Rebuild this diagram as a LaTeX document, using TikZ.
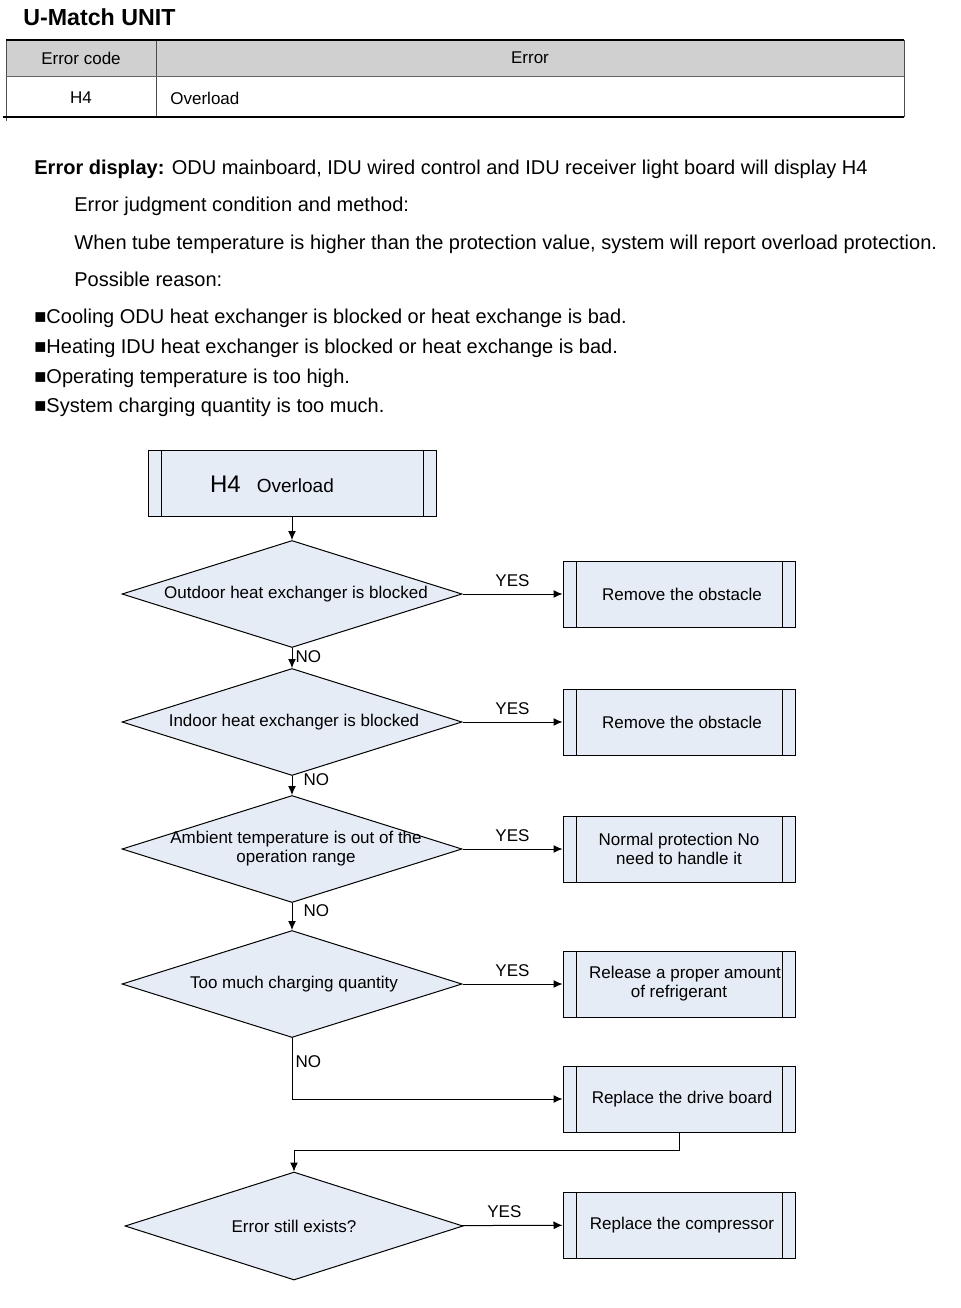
\documentclass[tikz,border=0pt]{standalone}
\usepackage{fontspec}
\setmainfont{Liberation Sans}
\usepackage{tikz}
\usetikzlibrary{arrows.meta}
\usetikzlibrary{shapes.geometric}
\usetikzlibrary{positioning}
\definecolor{boxblue}{HTML}{E6ECF6}
\definecolor{headgray}{HTML}{D0D0D0}
\tikzset{
  bodytext/.style={inner sep=0pt, anchor=base west, font=\fontsize{10}{12}\selectfont},
  fctext/.style={inner sep=0pt, align=center, font=\fontsize{8.5}{9.5}\selectfont},
  procbox/.style={draw, fill=boxblue, line width=0.5pt, minimum width=116pt, minimum height=33pt,
    inner sep=0pt, align=center, font=\fontsize{8.5}{9.5}\selectfont,
    path picture={
      \draw[line width=0.5pt] ([xshift=6.5pt]path picture bounding box.north west) -- ([xshift=6.5pt]path picture bounding box.south west);
      \draw[line width=0.5pt] ([xshift=-6.5pt]path picture bounding box.north east) -- ([xshift=-6.5pt]path picture bounding box.south east);}},
  decision/.style={draw, fill=boxblue, line width=0.5pt, shape=diamond, inner sep=0pt,
    minimum width=170pt, minimum height=53.5pt}
}

\begin{document}
\begin{tikzpicture}[x=0.5pt, y=-0.5pt]
	\useasboundingbox (0,0) rectangle (960,1308);

	% table
	\fill[headgray] (6,40) rectangle (904,76);
	\draw[line width=0.4pt, black!70] (6,40) -- (6,121);
	\draw[line width=0.4pt, black!70] (156,40) -- (156,117);
	\draw[line width=0.4pt, black!70] (904,40) -- (904,117);
	\draw[line width=0.4pt, black!60] (6,76) -- (904,76);
	\draw[line width=0.9pt] (6,40) -- (904,40);
	\draw[line width=0.9pt] (3,117) -- (904,117);

	\begin{scope}[every node/.style={inner sep=0pt, font=\fontsize{8.5}{10}\selectfont}]
		\node (title) [anchor=base west, font=\fontsize{11.6}{14}\selectfont\bfseries] at (23,25) {U-Match UNIT};
		\node (hcode) at (81,58) {Error code};
		\node (herr) at (530,58) {Error};
		\node (code) at (81,98) {H4};
		\node (err) [anchor=west] at (170,98) {Overload};
	\end{scope}

	% description
	\begin{scope}[every node/.style={bodytext}]
		\node (disp) at (34,174) {\textbf{Error display:} ODU mainboard, IDU wired control and IDU receiver light board will display H4};
		\node (judge) at (74,211) {Error judgment condition and method:};
		\node (when) at (74,249) {When tube temperature is higher than the protection value, system will report overload protection.};
		\node (poss) at (74,286) {Possible reason:};
		\node (r1) at (34,323) {■Cooling ODU heat exchanger is blocked or heat exchange is bad.};
		\node (r2) at (34,353) {■Heating IDU heat exchanger is blocked or heat exchange is bad.};
		\node (r3) at (34,383) {■Operating temperature is too high.};
		\node (r4) at (34,412) {■System charging quantity is too much.};
	\end{scope}

	% flow chart
	\node (start) [procbox, minimum width=144pt] at (292,483) {};
	\node (startt) [fctext] at (272,484) {{\fontsize{12}{14}\selectfont H4}\hspace{8pt}{\fontsize{9.5}{11}\selectfont Overload}};

	\node (q1) [decision] at (292,594) {};
	\node (q1t) [fctext] at (296,594) {Outdoor heat exchanger is blocked};
	\node (q2) [decision] at (292,722) {};
	\node (q2t) [fctext] at (294,722) {Indoor heat exchanger is blocked};
	\node (q3) [decision] at (292,849) {};
	\node (q3t) [fctext] at (296,849) {Ambient temperature is out of the\\operation range};
	\node (q4) [decision] at (292,984) {};
	\node (q4t) [fctext] at (294,984) {Too much charging quantity};
	\node (q5) [decision, minimum width=169pt, minimum height=54pt] at (294,1226) {};
	\node (q5t) [fctext] at (294,1226) {Error still exists?};

	\node (a1) [procbox] at (679,594) {\hspace*{3pt}Remove the obstacle};
	\node (a2) [procbox] at (679,722) {\hspace*{3pt}Remove the obstacle};
	\node (a3) [procbox] at (679,849) {Normal protection No\\need to handle it};
	\node (a4) [procbox] at (679,984) {\hspace*{6pt}Release a proper amount\\of refrigerant};
	\node (a5) [procbox] at (679,1099) {\hspace*{3pt}Replace the drive board};
	\node (a6) [procbox] at (679,1225) {\hspace*{3pt}Replace the compressor};

	\begin{scope}[>={Latex[length=4.5pt, width=4pt]},
	              every node/.style={inner sep=2.5pt, font=\fontsize{8.5}{10}\selectfont},
	              every edge/.style={draw=black, line width=0.5pt, ->}]
		\path (start) edge (q1);
		\path (q1) edge node[above, yshift=1pt] {YES} (a1);
		\path (q2) edge node[above, yshift=1pt] {YES} (a2);
		\path (q3) edge node[above, yshift=1pt] {YES} (a3);
		\path (q4) edge node[above, yshift=1pt] {YES} (a4);
		\path (q5) edge node[above, yshift=1pt, xshift=-4pt] {YES} (a6);
		\path (q1) edge node[right, inner sep=1.5pt, pos=0.45] {NO} (q2);
		\path (q2) edge node[right, inner sep=5.5pt, pos=0.2] {NO} (q3);
		\path (q3) edge node[right, inner sep=5.5pt, pos=0.3] {NO} (q4);
		\draw[->, line width=0.5pt] (q4) |- node[right, inner sep=1.5pt, pos=0.19] {NO} (a5);
		\draw[->, line width=0.5pt] (a5.south) -- ++(0,18) -| (q5);
	\end{scope}
\end{tikzpicture}
\end{document}
